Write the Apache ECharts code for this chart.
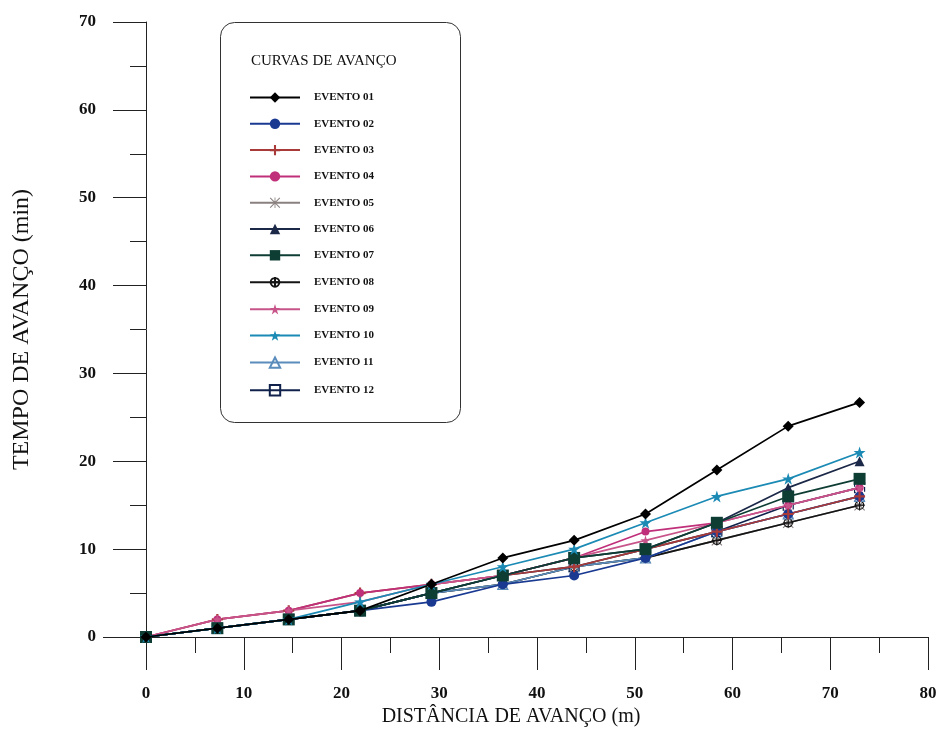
<!DOCTYPE html>
<html>
<head>
<meta charset="utf-8">
<script src="https://cdn.jsdelivr.net/npm/echarts@6/dist/echarts.min.js"></script>
<style>
  html, body { margin: 0; padding: 0; background: #ffffff; }
  #chart { width: 943px; height: 733px; }
</style>
</head>
<body>
<div id="chart"></div>
<script>
// Distância de avanço (m) at each measuring station
const distancias = [0, 7.3, 14.6, 21.9, 29.2, 36.5, 43.8, 51.1, 58.4, 65.7, 73];

// Tempo de avanço (min) per event
const evento01 = [0, 1, 2, 3, 6, 9, 11, 14, 19, 24, 26.7];
const evento02 = [0, 1, 2, 3, 4, 6, 7, 9, 12, 14, 16];
const evento03 = [0, 2, 3, 5, 6, 7, 8, 10, 12, 14, 16];
const evento04 = [0, 2, 3, 5, 6, 7, 9, 12, 13, 15, 17];
const evento05 = [0, 1, 2, 3, 5, 6, 8, 9, 11, 13, 15];
const evento06 = [0, 1, 2, 3, 5, 7, 9, 10, 13, 17, 20];
const evento07 = [0, 1, 2, 3, 5, 7, 9, 10, 13, 16, 18];
const evento08 = [0, 1, 2, 3, 5, 6, 8, 9, 11, 13, 15];
const evento09 = [0, 2, 3, 4, 6, 7, 9, 11, 13, 15, 17];
const evento10 = [0, 1, 2, 4, 6, 8, 10, 13, 16, 18, 21];
const evento11 = [0, 1, 2, 3, 5, 6, 8, 9, 12, 14, 16];
const evento12 = [0, 1, 2, 3, 5, 7, 8, 10, 12, 15, 17];

const nomes = ['EVENTO 01', 'EVENTO 02', 'EVENTO 03', 'EVENTO 04', 'EVENTO 05', 'EVENTO 06',
               'EVENTO 07', 'EVENTO 08', 'EVENTO 09', 'EVENTO 10', 'EVENTO 11', 'EVENTO 12'];
const valores = [evento01, evento02, evento03, evento04, evento05, evento06,
                 evento07, evento08, evento09, evento10, evento11, evento12];

// marker shapes
const PLUS = 'path://M4,0 H6 V4 H10 V6 H6 V10 H4 V6 H0 V4 H4 Z';
const ASTER = 'path://M4.6,0 H5.4 V4.6 H10 V5.4 H5.4 V10 H4.6 V5.4 H0 V4.6 H4.6 Z ' +
              'M0.7,0 L5,4.3 L9.3,0 L10,0.7 L5.7,5 L10,9.3 L9.3,10 L5,5.7 L0.7,10 L0,9.3 L4.3,5 L0,0.7 Z';
const CIRCPLUS = 'path://M0,5 A5,5 0 1,1 10,5 A5,5 0 1,1 0,5 Z M5,-1 V11 M-1,5 H11';
const STAR = 'path://M5,0 L6.2,3.6 L10,3.6 L6.9,5.9 L8.1,9.5 L5,7.3 L1.9,9.5 L3.1,5.9 L0,3.6 L3.8,3.6 Z';

const estilos = [
  { color: '#000000', symbol: 'diamond', size: 11, z: 9 },
  { color: '#1a3a92', symbol: 'circle', size: 10, z: 3 },
  { color: '#a83a3a', symbol: PLUS, size: 11, z: 3 },
  { color: '#c0307a', symbol: 'circle', size: 8, z: 3 },
  { color: '#8a8080', symbol: ASTER, size: 11, z: 2 },
  { color: '#1c2848', symbol: 'triangle', size: 10, z: 4 },
  { color: '#0e3d34', symbol: 'rect', size: 12, z: 6 },
  { color: '#141414', symbol: CIRCPLUS, size: 10, open: true, z: 2 },
  { color: '#c8558a', symbol: STAR, size: 10, z: 3 },
  { color: '#1b8ab4', symbol: STAR, size: 12, z: 7 },
  { color: '#5a8cbc', symbol: 'triangle', size: 10, open: true, z: 2 },
  { color: '#10224c', symbol: 'rect', size: 10, open: true, dashed: true, z: 2 }
];

const serif = '"Liberation Serif", "DejaVu Serif", serif';

const series = nomes.map((nome, i) => {
  const st = estilos[i];
  const item = st.open
    ? { color: 'rgba(255,255,255,0)', borderColor: st.color, borderWidth: 1.2, borderType: st.dashed ? 'dashed' : 'solid' }
    : { color: st.color };
  return {
    name: nome,
    type: 'line',
    data: distancias.map((d, k) => [d, valores[i][k]]),
    symbol: st.symbol,
    symbolSize: st.size,
    showAllSymbol: true,
    lineStyle: { color: st.color, width: 1.7 },
    itemStyle: item,
    z: st.z,
    animation: false
  };
});

const chart = echarts.init(document.getElementById('chart'), null, { renderer: 'canvas' });

chart.setOption({
  backgroundColor: '#ffffff',
  animation: false,
  grid: { left: 146, right: 15, top: 22, bottom: 96, containLabel: false },
  xAxis: {
    type: 'value',
    min: 0, max: 80, interval: 10,
    name: 'DISTÂNCIA DE AVANÇO (m)',
    nameLocation: 'middle',
    nameGap: 70,
    nameTextStyle: { fontFamily: serif, fontSize: 20, color: '#111', padding: [0, 52, 0, 0] },
    axisLine: { show: true, onZero: false, lineStyle: { color: '#222', width: 1 } },
    axisTick: { show: true, inside: false, length: 33, lineStyle: { color: '#222', width: 1 } },
    minorTick: { show: true, splitNumber: 2, length: 16, lineStyle: { color: '#222', width: 1 } },
    axisLabel: { margin: 48, fontFamily: serif, fontSize: 17, fontWeight: 'bold', color: '#111' },
    splitLine: { show: false }
  },
  yAxis: {
    type: 'value',
    min: 0, max: 70, interval: 10,
    name: 'TEMPO DE AVANÇO (min)',
    nameLocation: 'middle',
    nameGap: 112,
    nameRotate: 90,
    nameTextStyle: { fontFamily: serif, fontSize: 24, color: '#111' },
    axisLine: { show: true, onZero: false, lineStyle: { color: '#222', width: 1 } },
    axisTick: { show: true, inside: false, length: 33, lineStyle: { color: '#222', width: 1 } },
    minorTick: { show: true, splitNumber: 2, length: 16, lineStyle: { color: '#222', width: 1 } },
    axisLabel: { margin: 50, fontFamily: serif, fontSize: 17, fontWeight: 'bold', color: '#111' },
    splitLine: { show: false }
  },
  legend: {
    orient: 'vertical',
    left: 244,
    top: 87,
    itemWidth: 50,
    itemHeight: 13,
    itemGap: 15.3,
    selectedMode: false,
    textStyle: { fontFamily: serif, fontSize: 11, fontWeight: 'bold', color: '#111', padding: [0, 0, 0, 9] },
    data: nomes
  },
  graphic: [
    {
      type: 'rect',
      shape: { x: 220.5, y: 22.5, width: 240, height: 400, r: 14 },
      style: { fill: 'none', stroke: '#333', lineWidth: 1 },
      z: 0
    },
    {
      type: 'line',
      shape: { x1: 103, y1: 637.5, x2: 146, y2: 637.5 },
      style: { stroke: '#222', lineWidth: 1 },
      z: 0
    },
    {
      type: 'text',
      left: 251,
      top: 54,
      style: { text: 'CURVAS DE AVANÇO', font: '15px ' + serif, fill: '#111' }
    }
  ],
  series: series
});
</script>
</body>
</html>
